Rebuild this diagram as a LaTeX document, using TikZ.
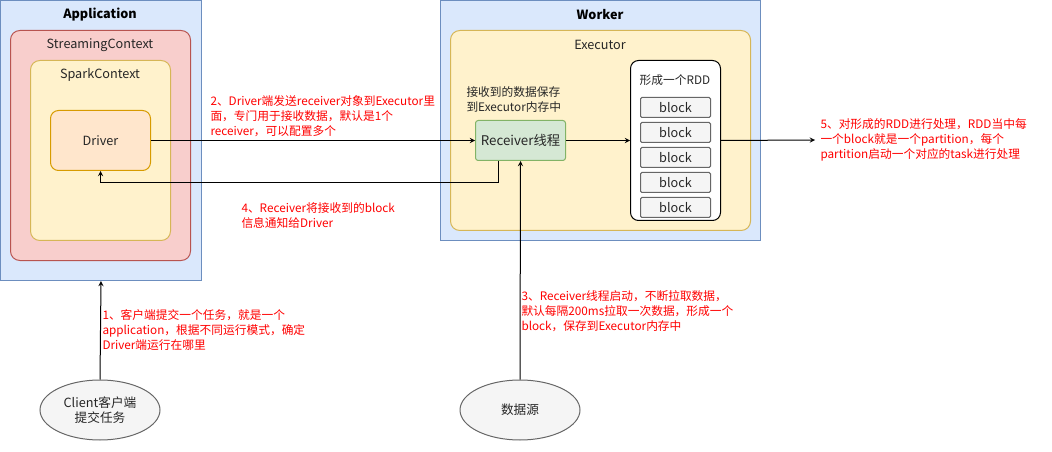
\documentclass[tikz,border=0pt]{standalone}
\usepackage{fontspec}
\setmainfont{Noto Sans CJK SC}
\usetikzlibrary{shapes.geometric}

\definecolor{bluefill}{HTML}{DAE8FC}
\definecolor{blueline}{HTML}{6C8EBF}
\definecolor{redfill}{HTML}{F8CECC}
\definecolor{redline}{HTML}{B85450}
\definecolor{yellowfill}{HTML}{FFF2CC}
\definecolor{yellowline}{HTML}{D6B656}
\definecolor{orangefill}{HTML}{FFE6CC}
\definecolor{orangeline}{HTML}{D79B00}
\definecolor{greenfill}{HTML}{D5E8D4}
\definecolor{greenline}{HTML}{82B366}
\definecolor{greyfill}{HTML}{F5F5F5}
\definecolor{greyline}{HTML}{666666}
\definecolor{notered}{HTML}{FF0000}

\begin{document}
\begin{tikzpicture}[x=0.75pt, y=-0.75pt, >=stealth, line width=0.75pt, font=\fontsize{9.5}{11}\selectfont]
        \tikzstyle{every node}=[inner sep=0pt, text=black!85]
        \tikzstyle{box}=[draw, rectangle, anchor=north west]
        \tikzstyle{host}=[box, fill=bluefill, draw=blueline]
        \tikzstyle{ctx}=[box, rounded corners=7pt]
        \tikzstyle{blockbox}=[box, fill=greyfill, draw=greyline, rounded corners=1pt, minimum width=52.5pt, minimum height=15pt]
        \tikzstyle{source}=[ellipse, draw=greyline, fill=greyfill, minimum width=90pt, minimum height=45pt, align=center]
        \tikzstyle{title}=[font=\fontsize{9.5}{11}\selectfont\bfseries, text=black]
        \tikzstyle{note}=[anchor=west, align=left, text=notered, font=\fontsize{8.8}{11.25}\selectfont]
        \useasboundingbox (0,0) rectangle (1052,452);
        % application side
        \node [host, minimum width=150.75pt, minimum height=210pt] (app) at (0,0) {};
        \node [title] (apptitle) at (100,15) {Application};
        \node [ctx, fill=redfill, draw=redline, minimum width=135pt, minimum height=172.5pt] (ssc) at (10,30) {};
        \node (ssctitle) at (100,45) {StreamingContext};
        \node [ctx, fill=yellowfill, draw=yellowline, minimum width=105pt, minimum height=135pt] (sc) at (30,60) {};
        \node (sctitle) at (100,75) {SparkContext};
        \node [box, rounded corners=6pt, fill=orangefill, draw=orangeline, minimum width=75pt, minimum height=45pt] (drv) at (50,110) {};
        \node (drvtext) at (drv.center) {Driver};
        % worker side
        \node [host, minimum width=240pt, minimum height=180pt] (wrk) at (440,0) {};
        \node [title] (wrktitle) at (600,15) {Worker};
        \node [ctx, fill=yellowfill, draw=yellowline, minimum width=225pt, minimum height=150pt] (exe) at (450,30) {};
        \node (exetitle) at (600,45) {Executor};
        \node [box, rounded corners=2pt, fill=greenfill, draw=greenline, minimum width=67.5pt, minimum height=30pt] (rcv) at (475,120) {};
        \node [font=\fontsize{10}{11}\selectfont] (rcvtext) at (rcv.center) {Receiver线程};
        \node [anchor=west, align=left, font=\fontsize{8.8}{11.25}\selectfont] (store) at (466,99.5) {接收到的数据保存\\到Executor内存中};
        \node [box, rounded corners=6pt, fill=white, draw=black, minimum width=67.5pt, minimum height=120pt] (rdd) at (630,60) {};
        \node [font=\fontsize{8.8}{11}\selectfont] (rddtitle) at (675,80) {形成一个RDD};
        \foreach \i in {0,...,4}
            \node [blockbox] (blk\i) at (640,97+25*\i) {};
        \foreach \i in {0,...,4}
            \node at (blk\i.center) {block};
        % sources
        \node [source] (cli) at (100,410) {Client客户端\\提交任务};
        \node [source] (src) at (520,410) {数据源};
        \coordinate (out) at (815,140);
        % connectors
        \draw [->] (drv.east) -- (rcv.west);
        \draw [->] ([xshift=-16.5pt]rcv.south) -- ++(0,22) -| (drv.south);
        \draw [->] (rcv.east) -- (rdd.west);
        \draw [->] (rdd.east) -- (out);
        \draw [->] (cli.north) -- (app.south);
        \draw [->] (src.north) -- (rcv.south);
        % notes
        \node [note] (note1) at (102,330) {1、客户端提交一个任务，就是一个\\application，根据不同运行模式，确定\\Driver端运行在哪里};
        \node [note] (note2) at (210,116) {2、Driver端发送receiver对象到Executor里\\面，专门用于接收数据，默认是1个\\receiver，可以配置多个};
        \node [note] (note3) at (521,311) {3、Receiver线程启动，不断拉取数据，\\默认每隔200ms拉取一次数据，形成一个\\block，保存到Executor内存中};
        \node [note] (note4) at (241,215.5) {4、Receiver将接收到的block\\信息通知给Driver};
        \node [note] (note5) at (820,140) {5、对形成的RDD进行处理，RDD当中每\\一个block就是一个partition，每个\\partition启动一个对应的task进行处理};
    \end{tikzpicture}
\end{document}
